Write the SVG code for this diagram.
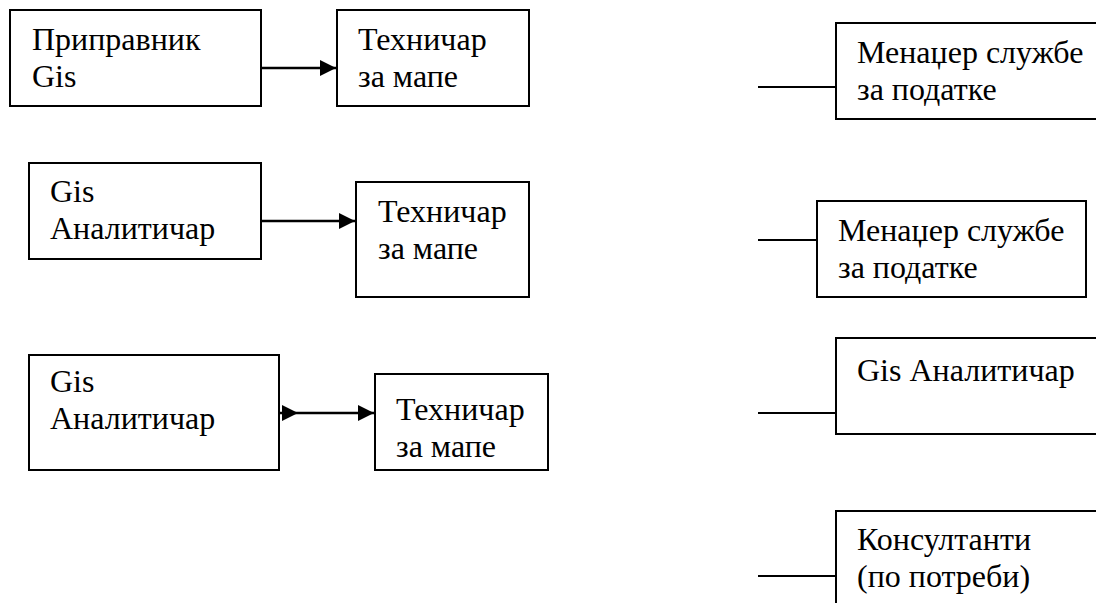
<svg xmlns="http://www.w3.org/2000/svg" width="1096" height="603" viewBox="0 0 1096 603">
  <style>
    .box { fill: #ffffff; stroke: #000000; stroke-width: 2; }
    .lbl { font-family: "Liberation Serif", "Times New Roman", serif; font-size: 32px; fill: #000000; }
    .conn { stroke: #000000; stroke-width: 2.5; fill: none; }
    .stub { stroke: #000000; stroke-width: 2; fill: none; }
  </style>
  <defs>
    <marker id="ah" viewBox="0 0 16 16" refX="16" refY="8" markerWidth="16" markerHeight="16" markerUnits="userSpaceOnUse" orient="auto">
      <path d="M0,0 L16,8 L0,16 z" fill="#000000"/>
    </marker>
  </defs>

  <g id="connectors">
    <path class="conn" d="M261,68 L336,68" marker-end="url(#ah)"/>
    <path class="conn" d="M261,221 L355,221" marker-end="url(#ah)"/>
    <path class="conn" d="M279,413 L298,413 L374,413" marker-mid="url(#ah)" marker-end="url(#ah)"/>
    <path class="stub" d="M758,87 L836,87"/>
    <path class="stub" d="M758,240 L817,240"/>
    <path class="stub" d="M758,413 L836,413"/>
    <path class="stub" d="M758,576 L836,576"/>
  </g>

  <g id="node-pripravnik">
    <rect class="box" x="10" y="10" width="251" height="96"/>
    <text class="lbl" x="32" y="50">Приправник</text>
    <text class="lbl" x="32" y="87">Gis</text>
  </g>
  <g id="node-tehnicar1">
    <rect class="box" x="337" y="10" width="192" height="96"/>
    <text class="lbl" x="358" y="50">Техничар</text>
    <text class="lbl" x="358" y="87">за мапе</text>
  </g>

  <g id="node-analiticar1">
    <rect class="box" x="29" y="163" width="232" height="96"/>
    <text class="lbl" x="50" y="202">Gis</text>
    <text class="lbl" x="50" y="239">Аналитичар</text>
  </g>
  <g id="node-tehnicar2">
    <rect class="box" x="356" y="182" width="173" height="115"/>
    <text class="lbl" x="378" y="222">Техничар</text>
    <text class="lbl" x="378" y="259">за мапе</text>
  </g>

  <g id="node-analiticar2">
    <rect class="box" x="29" y="355" width="250" height="115"/>
    <text class="lbl" x="50" y="392">Gis</text>
    <text class="lbl" x="50" y="429">Аналитичар</text>
  </g>
  <g id="node-tehnicar3">
    <rect class="box" x="375" y="374" width="173" height="96"/>
    <text class="lbl" x="396" y="420">Техничар</text>
    <text class="lbl" x="396" y="457">за мапе</text>
  </g>

  <g id="node-menadzer1">
    <rect class="box" x="836" y="23" width="270" height="96"/>
    <text class="lbl" x="857" y="63">Менаџер службе</text>
    <text class="lbl" x="857" y="100">за податке</text>
  </g>
  <g id="node-menadzer2">
    <rect class="box" x="817" y="201" width="269" height="96"/>
    <text class="lbl" x="838" y="241">Менаџер службе</text>
    <text class="lbl" x="838" y="278">за податке</text>
  </g>
  <g id="node-analiticar3">
    <rect class="box" x="836" y="338" width="270" height="96"/>
    <text class="lbl" x="857" y="381">Gis Аналитичар</text>
  </g>
  <g id="node-konsultanti">
    <rect class="box" x="836" y="511" width="270" height="110"/>
    <text class="lbl" x="857" y="550">Консултанти</text>
    <text class="lbl" x="857" y="587">(по потреби)</text>
  </g>
</svg>
